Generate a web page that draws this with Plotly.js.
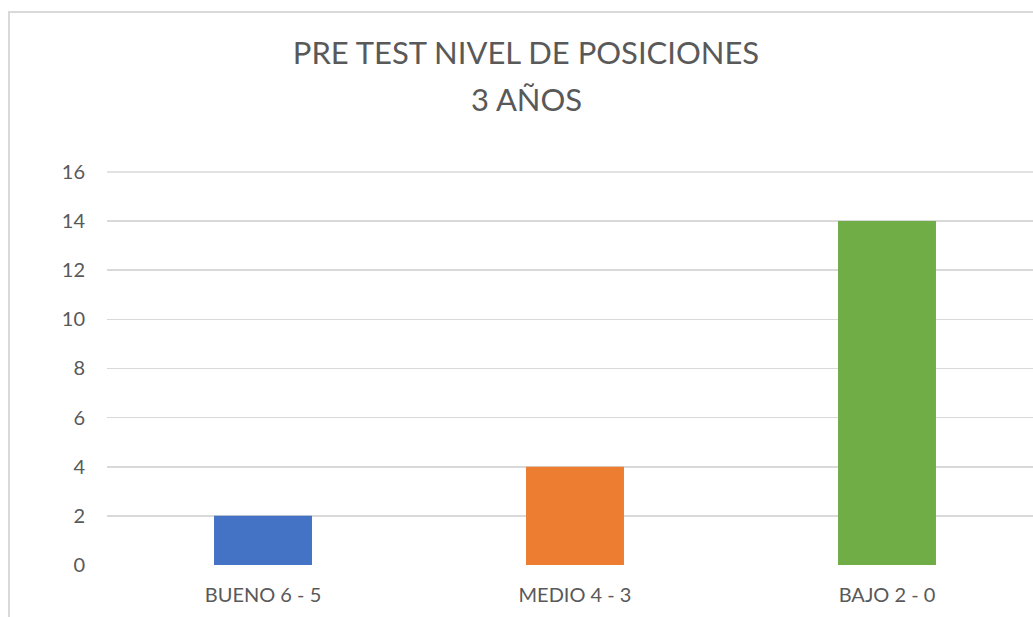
<!DOCTYPE html>
<html>
<head>
<meta charset="utf-8">
<script src="https://cdn.plot.ly/plotly-3.0.1.min.js"></script>
<style>
html,body{margin:0;padding:0;overflow:hidden;background:#fff;width:1033px;height:617px;}
#frame{position:absolute;left:8px;top:11px;width:2000px;height:2000px;border:2px solid #d9d9d9;box-sizing:border-box;}
#chart{position:absolute;left:0;top:0;}
</style>
</head>
<body>
<div id="frame"></div>
<div id="chart"></div>
<script>
const categories = ["BUENO 6 - 5", "MEDIO 4 - 3", "BAJO 2 - 0"];
const values = [2, 4, 14];
const barColors = ["#4472C4", "#ED7D31", "#70AD47"];
const titleLine1 = "PRE TEST NIVEL DE POSICIONES";
const titleLine2 = "3 AÑOS";
const yTicks = [0, 2, 4, 6, 8, 10, 12, 14, 16];

const W = 1060, H = 640;
const FONT = "Lato, 'Open Sans', sans-serif";
const yMax = yTicks[yTicks.length - 1];

Plotly.newPlot("chart", [{
  type: "bar",
  x: categories,
  y: values,
  marker: {color: barColors},
  hoverinfo: "none"
}], {
  width: W, height: H,
  margin: {l: 107, r: W - 1043, t: 171, b: H - 565, pad: 0},
  paper_bgcolor: "rgba(0,0,0,0)",
  plot_bgcolor: "rgba(0,0,0,0)",
  bargap: 0.686,
  showlegend: false,
  font: {family: FONT, color: "#595959"},
  title: {
    text: titleLine1,
    font: {family: FONT, size: 31, color: "#595959"},
    x: 526 / W, xanchor: "center",
    y: 1 - 53 / H, yanchor: "middle"
  },
  annotations: [{
    text: titleLine2,
    xref: "paper", yref: "paper",
    x: (526 - 107) / (1043 - 107), y: (565 - 99) / (565 - 171),
    xanchor: "center", yanchor: "middle",
    showarrow: false,
    font: {family: FONT, size: 31, color: "#595959"}
  }],
  shapes: [{
    type: "line", xref: "paper", yref: "y",
    x0: 0, x1: 1, y0: yMax, y1: yMax,
    line: {color: "#d9d9d9", width: 1.5},
    layer: "below"
  }],
  xaxis: {
    type: "category",
    showgrid: false, showline: false, zeroline: false,
    ticks: "", ticklabelstandoff: 16,
    tickfont: {family: FONT, size: 20, color: "#595959"}
  },
  yaxis: {
    range: [0, 16.04],
    tickvals: yTicks,
    showgrid: true, gridcolor: "#d9d9d9", gridwidth: 1.5,
    zeroline: false, showline: false,
    ticks: "", ticklabelstandoff: 21,
    tickfont: {family: FONT, size: 20, color: "#595959"}
  }
}, {staticPlot: true, displayModeBar: false});
</script>
</body>
</html>
